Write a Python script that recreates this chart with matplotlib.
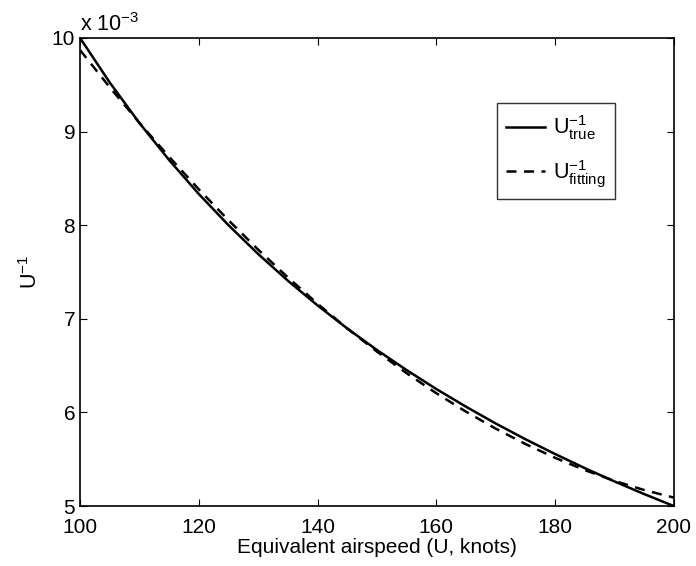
import matplotlib
matplotlib.use("Agg")
import matplotlib.pyplot as plt

plt.rcParams["font.family"] = ["Liberation Sans", "DejaVu Sans"]
plt.rcParams["mathtext.fontset"] = "custom"
plt.rcParams["mathtext.rm"] = "Liberation Sans"
plt.rcParams["mathtext.it"] = "Liberation Sans"

# airspeed (knots) and 1/U in units of 1e-3
airspeed = [100, 105, 110, 115, 120, 125, 130, 135, 140, 145, 150,
            155, 160, 165, 170, 175, 180, 185, 190, 195, 200]
u_inv_true = [10.000, 9.524, 9.091, 8.696, 8.333, 8.000, 7.692, 7.407,
              7.143, 6.897, 6.667, 6.452, 6.250, 6.061, 5.882, 5.714,
              5.556, 5.405, 5.263, 5.128, 5.000]
u_inv_fit = [9.870, 9.473, 9.093, 8.730, 8.383, 8.053, 7.739, 7.442,
             7.161, 6.897, 6.650, 6.419, 6.205, 6.008, 5.827, 5.663,
             5.515, 5.384, 5.269, 5.171, 5.090]

xticks = [100, 120, 140, 160, 180, 200]
yticks = [5, 6, 7, 8, 9, 10]

fig = plt.figure(figsize=(6.96, 5.66), dpi=100)
ax = fig.add_axes([0.115, 0.106, 0.853, 0.827])

ax.plot(airspeed, u_inv_true, color="black", lw=1.8, ls="-",
        label=r"$\mathrm{U}^{-1}_{\mathrm{true}}$")
ax.plot(airspeed, u_inv_fit, color="black", lw=1.8, ls=(0, (4, 3)),
        label=r"$\mathrm{U}^{-1}_{\mathrm{fitting}}$")

ax.set_xlim(100, 200)
ax.set_ylim(5, 10)
ax.set_xticks(xticks)
ax.set_yticks(yticks)
ax.tick_params(direction="in", length=5, width=0.8, labelsize=15,
               top=True, right=True)
ax.tick_params(axis="x", pad=8.5)
ax.tick_params(axis="y", pad=3.5)
for s in ax.spines.values():
    s.set_linewidth(1.2)

ax.set_xlabel("Equivalent airspeed (U, knots)", fontsize=15, labelpad=1)
ax.set_ylabel(r"$\mathrm{U}^{-1}$", fontsize=15.5, labelpad=7)
ax.text(0.0, 1.004, r"x 10$^{-3}$", transform=ax.transAxes,
        fontsize=15.5, ha="left", va="bottom")

leg = ax.legend(loc="upper left", bbox_to_anchor=(0.702, 0.86), fontsize=15.5,
                frameon=True, fancybox=False, edgecolor="black",
                handlelength=1.8, borderpad=0.45, labelspacing=0.75,
                handletextpad=0.35, borderaxespad=0)
leg.get_frame().set_linewidth(1.0)

fig.savefig("out.png", dpi=100, facecolor="white")
